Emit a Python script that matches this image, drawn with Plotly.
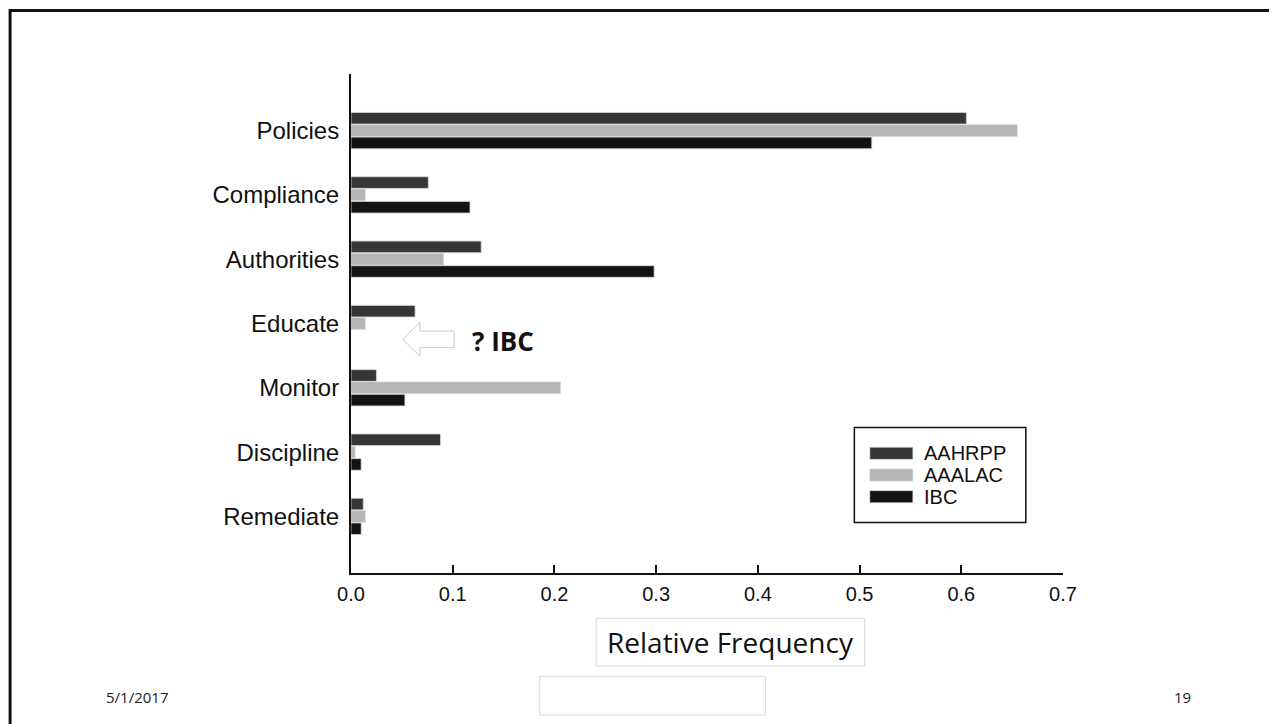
import plotly.graph_objects as go

categories = ["Policies", "Compliance", "Authorities", "Educate", "Monitor", "Discipline", "Remediate"]
series_names = ["AAHRPP", "AAALAC", "IBC"]
aahrpp = [0.605, 0.076, 0.128, 0.063, 0.025, 0.088, 0.012]
aaalac = [0.655, 0.014, 0.091, 0.014, 0.206, 0.004, 0.014]
ibc = [0.512, 0.117, 0.298, None, 0.053, 0.010, 0.010]
series_values = [aahrpp, aaalac, ibc]
series_colors = ["#363636", "#b5b5b5", "#131313"]
x_ticks = [0.0, 0.1, 0.2, 0.3, 0.4, 0.5, 0.6, 0.7]
x_tick_labels = ["0.0", "0.1", "0.2", "0.3", "0.4", "0.5", "0.6", "0.7"]

# page offset (body margin) compensation
OFF = 8
W, H = 1277, 724
PW, PH = 1062.7 - 350.5, 573 - 74
L, T = 350.5 - OFF, 74 - OFF
R, B = W - L - PW, H - T - PH


def px(x):
    return (x - OFF - L) / PW


def py(y):
    return (T + PH - (y - OFF)) / PH


fig = go.Figure()
for name, vals, col in zip(series_names, series_values, series_colors):
    fig.add_trace(go.Bar(
        y=categories, x=vals, name=name, orientation="h",
        marker=dict(color=col, line=dict(color="#d4d4d4", width=0.8)),
        showlegend=False,
    ))

shapes = []
annotations = []

# slide border
shapes.append(dict(type="rect", xref="paper", yref="paper",
                   x0=px(9.5), x1=px(1300), y0=py(10.5), y1=py(760),
                   line=dict(color="#111111", width=3), fillcolor="rgba(0,0,0,0)"))

# custom legend
shapes.append(dict(type="rect", xref="paper", yref="paper",
                   x0=px(854), x1=px(1025.5), y0=py(427.5), y1=py(522.5),
                   line=dict(color="#111111", width=1.5), fillcolor="white"))
legend_y = [453.3, 475, 496.7]
for name, col, yy in zip(series_names, series_colors, legend_y):
    shapes.append(dict(type="rect", xref="paper", yref="paper",
                       x0=px(869.5), x1=px(912.5), y0=py(yy - 6), y1=py(yy + 6),
                       line=dict(color="#d4d4d4", width=0.6), fillcolor=col))
    annotations.append(dict(xref="paper", yref="paper", x=px(922), y=py(yy),
                            xanchor="left", yanchor="middle", text=name, showarrow=False,
                            font=dict(family="Liberation Sans", size=20, color="#111111")))

# arrow outline
path = "M {},{} L {},{} L {},{} L {},{} L {},{} L {},{} L {},{} Z".format(
    px(402.3), py(339.3),
    px(419.5), py(322.3),
    px(419.5), py(331),
    px(453.7), py(331),
    px(453.7), py(347.7),
    px(419.5), py(347.7),
    px(419.5), py(356.3),
)
shapes.append(dict(type="path", xref="paper", yref="paper", path=path,
                   line=dict(color="#c8c8c8", width=1), fillcolor="white"))
annotations.append(dict(xref="paper", yref="paper", x=px(470), y=py(341),
                        xanchor="left", yanchor="middle", text="<b>? IBC</b>", showarrow=False,
                        font=dict(family="Open Sans", size=26, color="#111111")))

# x-axis title box
shapes.append(dict(type="rect", xref="paper", yref="paper",
                   x0=px(595.7), x1=px(864.3), y0=py(618.3), y1=py(666),
                   line=dict(color="#d6d6d6", width=1), fillcolor="white"))
annotations.append(dict(xref="paper", yref="paper", x=px(730), y=py(642),
                        xanchor="center", yanchor="middle", text="Relative Frequency", showarrow=False,
                        font=dict(family="Open Sans", size=28, color="#111111")))
# empty box
shapes.append(dict(type="rect", xref="paper", yref="paper",
                   x0=px(539.3), x1=px(765), y0=py(676.3), y1=py(715),
                   line=dict(color="#d6d6d6", width=1), fillcolor="white"))

# footer
annotations.append(dict(xref="paper", yref="paper", x=px(136), y=py(696.5),
                        xanchor="center", yanchor="middle", text="5/1/2017", showarrow=False,
                        font=dict(family="Open Sans", size=15, color="#222222")))
annotations.append(dict(xref="paper", yref="paper", x=px(1182), y=py(696.5),
                        xanchor="center", yanchor="middle", text="19", showarrow=False,
                        font=dict(family="Open Sans", size=15, color="#222222")))

fig.update_layout(
    width=W, height=H,
    margin=dict(l=L, r=R, t=T, b=B, pad=0),
    paper_bgcolor="white", plot_bgcolor="white",
    barmode="group", bargap=0.425, bargroupgap=0.06,
    shapes=shapes, annotations=annotations,
    showlegend=False,
    xaxis=dict(range=[0, 0.7], tickvals=x_ticks, ticktext=x_tick_labels,
               ticks="inside", ticklen=8, tickwidth=2, tickcolor="#111111",
               showline=True, linewidth=2, linecolor="#111111",
               showgrid=False, zeroline=False, ticklabelstandoff=2,
               tickfont=dict(family="Liberation Sans", size=20, color="#111111")),
    yaxis=dict(type="category", categoryorder="array", categoryarray=categories,
               range=[6.88, -0.88], showline=True, linewidth=2, linecolor="#111111",
               ticks="", showgrid=False, zeroline=False, ticklabelstandoff=5,
               tickfont=dict(family="Liberation Sans", size=24, color="#111111")),
)

fig.write_html("out.html")
